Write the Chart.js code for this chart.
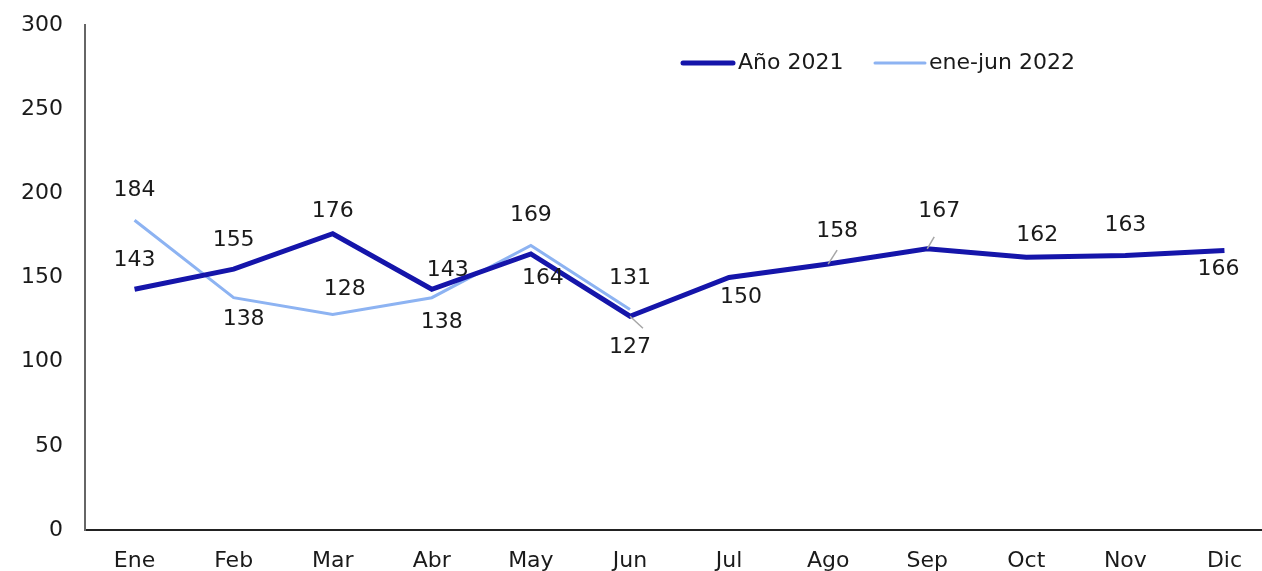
<!DOCTYPE html>
<html>
<head>
<meta charset="utf-8">
<script src="https://cdn.jsdelivr.net/npm/chart.js@4.4.0/dist/chart.umd.min.js"></script>
<style>
  body { margin: 0; background: #fff; }
  #wrap { width: 1262px; height: 571px; }
</style>
</head>
<body>
<div id="wrap"><canvas id="mycanvas"></canvas></div>
<script>
var meses = ['Ene','Feb','Mar','Abr','May','Jun','Jul','Ago','Sep','Oct','Nov','Dic'];
var anio2021 = [143,155,176,143,164,127,150,158,167,162,163,166];
var eneJun2022 = [184,138,128,138,169,131];
var yTicks = [0,50,100,150,200,250,300];

// label offsets (dx, dy) from each point, and optional leader lines
var offs2021 = [[0,-29],[0,-29],[0,-22],[16,-19],[12,24],[0,31],[12,20],[9,-33],[12,-38],[11,-22],[0,-30],[-6,19]];
var offs2022 = [[0,-30],[10,22],[12,-25],[10,25],[0,-30],[0,-31]];
var leaders2021 = {5: [13,12], 7: [9,-14], 8: [7,-12]};

var FONT = '"DejaVu Sans", sans-serif';

// the category axis runs a bit past the right edge of the canvas
var extendAxis = {
  id: 'extendAxis',
  afterLayout: function(chart) {
    var x = chart.scales.x;
    x.right = x.right + 12;
    x.width = x.right - x.left;
    x.configure();
  }
};

var labelsPlugin = {
  id: 'etiquetas',
  afterDatasetsDraw: function(chart) {
    var ctx = chart.ctx;
    ctx.save();
    ctx.font = '22px ' + FONT;
    ctx.fillStyle = '#1a1a1a';
    ctx.textAlign = 'center';
    ctx.textBaseline = 'middle';
    [[0, offs2021, leaders2021], [1, offs2022, {}]].forEach(function(d) {
      var meta = chart.getDatasetMeta(d[0]);
      var vals = chart.data.datasets[d[0]].data;
      meta.data.forEach(function(pt, i) {
        if (d[2][i]) {
          ctx.strokeStyle = '#a6a6a6';
          ctx.lineWidth = 1.5;
          ctx.beginPath();
          ctx.moveTo(pt.x, pt.y);
          ctx.lineTo(pt.x + d[2][i][0], pt.y + d[2][i][1]);
          ctx.stroke();
        }
        ctx.fillText(vals[i], pt.x + d[1][i][0], pt.y + d[1][i][1]);
      });
    });
    // legend
    var items = [[683, 738], [875, 929]];
    chart.data.datasets.forEach(function(ds, i) {
      ctx.strokeStyle = ds.borderColor;
      ctx.lineWidth = ds.borderWidth;
      ctx.lineCap = 'round';
      ctx.beginPath();
      ctx.moveTo(items[i][0], 63);
      ctx.lineTo(items[i][0] + 50, 63);
      ctx.stroke();
      ctx.textAlign = 'left';
      ctx.fillText(ds.label, items[i][1], 63);
    });
    ctx.restore();
  }
};

var ctx = document.getElementById('mycanvas');
new Chart(ctx, {
  type: 'line',
  data: {
    labels: meses,
    datasets: [
      { label: 'Año 2021', data: anio2021, borderColor: '#1515AA', borderWidth: 5, pointRadius: 0, tension: 0 },
      { label: 'ene-jun 2022', data: eneJun2022, borderColor: '#8DB3F2', borderWidth: 3, pointRadius: 0, tension: 0 }
    ]
  },
  options: {
    responsive: true,
    maintainAspectRatio: false,
    animation: false,
    layout: { padding: { top: 25, right: 0, left: 0, bottom: 0 } },
    plugins: { legend: { display: false }, tooltip: { enabled: false } },
    scales: {
      x: {
        offset: true,
        grid: { display: false, drawTicks: false },
        border: { color: '#222', width: 2 },
        ticks: { color: '#1a1a1a', font: { family: FONT, size: 22 }, padding: 18, maxRotation: 0 },
        afterFit: function(s) { s.height = 41; s.paddingLeft = 0; s.paddingRight = 0; }
      },
      y: {
        min: 0, max: 300,
        afterBuildTicks: function(s) { s.ticks = yTicks.map(function(v) { return { value: v }; }); },
        grid: { display: false, drawTicks: false },
        border: { color: '#666', width: 2 },
        ticks: { color: '#1a1a1a', font: { family: FONT, size: 22 }, padding: 22 },
        afterFit: function(s) { s.width = 85; s.paddingTop = 0; s.paddingBottom = 0; }
      }
    }
  },
  plugins: [extendAxis, labelsPlugin]
});
</script>
</body>
</html>
